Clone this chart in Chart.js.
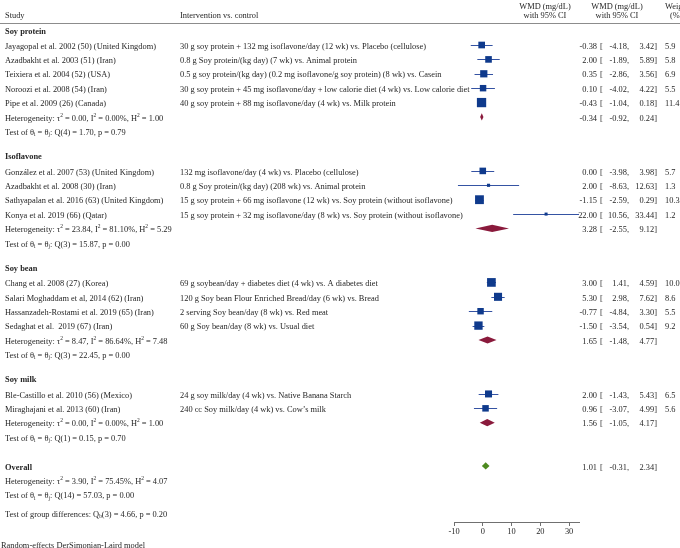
<!DOCTYPE html>
<html>
<head>
<meta charset="utf-8">
<script src="https://cdn.jsdelivr.net/npm/chart.js@4.4.1/dist/chart.umd.min.js"></script>
<style>
    html, body { margin: 0; padding: 0; background: #fff; }
    #wrap { width: 680px; height: 548px; }
</style>
</head>
<body>
<div id="wrap"><canvas id="chart" width="680" height="548"></canvas></div>
<script>
const groupNames = ['Soy protein', 'Isoflavone', 'Soy bean', 'Soy milk']

const studyLabels = [
    'Jayagopal et al. 2002 (50) (United Kingdom)',
    'Azadbakht et al. 2003 (51) (Iran)',
    'Teixiera et al. 2004 (52) (USA)',
    'Noroozi et al. 2008 (54) (Iran)',
    'Pipe et al. 2009 (26) (Canada)',
    'González et al. 2007 (53) (United Kingdom)',
    'Azadbakht et al. 2008 (30) (Iran)',
    'Sathyapalan et al. 2016 (63) (United Kingdom)',
    'Konya et al. 2019 (66) (Qatar)',
    'Chang et al. 2008 (27) (Korea)',
    'Salari Moghaddam et al, 2014 (62) (Iran)',
    'Hassanzadeh-Rostami et al. 2019 (65) (Iran)',
    'Sedaghat et al.  2019 (67) (Iran)',
    'Ble-Castillo et al. 2010 (56) (Mexico)',
    'Miraghajani et al. 2013 (60) (Iran)'
]
const interventions = [
    '30 g soy protein + 132 mg isoflavone/day (12 wk) vs. Placebo (cellulose)',
    '0.8 g Soy protein/(kg day) (7 wk) vs. Animal protein',
    '0.5 g soy protein/(kg day) (0.2 mg isoflavone/g soy protein) (8 wk) vs. Casein',
    '30 g soy protein + 45 mg isoflavone/day + low calorie diet (4 wk) vs. Low calorie diet',
    '40 g soy protein + 88 mg isoflavone/day (4 wk) vs. Milk protein',
    '132 mg isoflavone/day (4 wk) vs. Placebo (cellulose)',
    '0.8 g Soy protein/(kg day) (208 wk) vs. Animal protein',
    '15 g soy protein + 66 mg isoflavone (12 wk) vs. Soy protein (without isoflavone)',
    '15 g soy protein + 32 mg isoflavone/day (8 wk) vs. Soy protein (without isoflavone)',
    '69 g soybean/day + diabetes diet (4 wk) vs. A diabetes diet',
    '120 g Soy bean Flour Enriched Bread/day (6 wk) vs. Bread',
    '2 serving Soy bean/day (8 wk) vs. Red meat',
    '60 g Soy bean/day (8 wk) vs. Usual diet',
    '24 g soy milk/day (4 wk) vs. Native Banana Starch',
    '240 cc Soy milk/day (4 wk) vs. Cow\u2019s milk'
]
const studyGroup = [0, 0, 0, 0, 0, 1, 1, 1, 1, 2, 2, 2, 2, 3, 3]
const estimates = [-0.38, 2.00, 0.35, 0.10, -0.43, 0.00, 2.00, -1.15, 22.00, 3.00, 5.30, -0.77, -1.50, 2.00, 0.96]
const lowerCI = [-4.18, -1.89, -2.86, -4.02, -1.04, -3.98, -8.63, -2.59, 10.56, 1.41, 2.98, -4.84, -3.54, -1.43, -3.07]
const upperCI = [3.42, 5.89, 3.56, 4.22, 0.18, 3.98, 12.63, 0.29, 33.44, 4.59, 7.62, 3.30, 0.54, 5.43, 4.99]
const weights = [5.9, 5.8, 6.9, 5.5, 11.4, 5.7, 1.3, 10.3, 1.2, 10.0, 8.6, 5.5, 9.2, 6.5, 5.6]

const pooledEst = [-0.34, 3.28, 1.65, 1.56]
const pooledLow = [-0.92, -2.55, -1.48, -1.05]
const pooledHigh = [0.24, 9.12, 4.77, 4.17]
const tau2 = ['0.00', '23.84', '8.47', '0.00']
const iSq = ['0.00', '81.10', '86.64', '0.00']
const hSq = ['1.00', '5.29', '7.48', '1.00']
const qDf = [4, 3, 3, 1]
const qVal = ['1.70', '15.87', '22.45', '0.15']
const qP = ['0.79', '0.00', '0.00', '0.70']

const overall = { est: 1.01, low: -0.31, high: 2.34, tau2: '3.90', i2: '75.45', h2: '4.07', df: 14, q: '57.03', p: '0.00' }
const groupDiff = { df: 3, q: '4.66', p: '0.20' }

const xTicks = [-10, 0, 10, 20, 30]

// row layout (in row units)
const rows = []
let u = 0
groupNames.forEach((name, g) => {
    if (g > 0) u += 1.7
    rows.push({ u, kind: 'header', text: name })
    u += 1.05
    studyGroup.forEach((sg, i) => {
        if (sg !== g) return
        rows.push({ u, kind: 'study', i })
        u += 1
    })
    rows.push({ u, kind: 'het', g })
    u += 1
    rows.push({ u, kind: 'test', g })
})
u += 2
rows.push({ u, kind: 'overall' })
u += 1
rows.push({ u, kind: 'ohet' })
u += 1
rows.push({ u, kind: 'otest' })
u += 1.3
rows.push({ u, kind: 'gdiff' })

const studyRowU = []
rows.forEach(r => { if (r.kind === 'study') studyRowU[r.i] = r.u })

const FS = 8.4
const FONT = '"Liberation Serif", "Times New Roman", serif'
const TEXT = '#262626'
const SQUARE = '#0f3a8c'
const WHISKER = '#3553a3'
const POOLED = '#8a1a3c'
const OVERALL = '#4d8a1f'
const TEXT_SHIFT = 1.5

function drawRich(ctx, parts, x, y) {
    let cx = x
    parts.forEach(p => {
        const [txt, mode] = typeof p === 'string' ? [p, ''] : p
        const size = mode ? FS * 0.65 : FS
        ctx.font = `${size}px ${FONT}`
        const dy = mode === 'sup' ? -FS * 0.38 : mode === 'sub' ? FS * 0.25 : 0
        ctx.fillText(txt, cx, y + dy)
        cx += ctx.measureText(txt).width
    })
}

function hetParts(t, i, h) {
    return ['Heterogeneity: \u03c4', ['2', 'sup'], ` = ${t}, I`, ['2', 'sup'], ` = ${i}%, H`, ['2', 'sup'], ` = ${h}`]
}
function testParts(df, q, p) {
    return ['Test of \u03b8', ['i', 'sub'], ' = \u03b8', ['j', 'sub'], `: Q(${df}) = ${q}, p = ${p}`]
}

function drawValues(ctx, y, est, low, high) {
    ctx.font = `${FS}px ${FONT}`
    ctx.textAlign = 'right'
    ctx.fillText(est.toFixed(2), 597, y)
    ctx.textAlign = 'left'
    ctx.fillText('[', 600, y)
    ctx.textAlign = 'right'
    ctx.fillText(low.toFixed(2) + ',', 629, y)
    ctx.fillText(high.toFixed(2) + ']', 657, y)
    ctx.textAlign = 'left'
}

function diamond(ctx, xs, ys, y, est, low, high, color) {
    const cy = ys.getPixelForValue(y)
    ctx.fillStyle = color
    ctx.beginPath()
    ctx.moveTo(xs.getPixelForValue(low), cy)
    ctx.lineTo(xs.getPixelForValue(est), cy - 3.6)
    ctx.lineTo(xs.getPixelForValue(high), cy)
    ctx.lineTo(xs.getPixelForValue(est), cy + 3.6)
    ctx.closePath()
    ctx.fill()
}

const forestPlugin = {
    id: 'forest',
    beforeDatasetsDraw(chart) {
        const { ctx, scales: { x, y } } = chart
        ctx.save()
        ctx.strokeStyle = WHISKER
        ctx.lineWidth = 1
        estimates.forEach((e, i) => {
            const py = Math.round(y.getPixelForValue(studyRowU[i])) + 0.5
            ctx.beginPath()
            ctx.moveTo(x.getPixelForValue(lowerCI[i]), py)
            ctx.lineTo(x.getPixelForValue(upperCI[i]), py)
            ctx.stroke()
        })
        rows.forEach(r => {
            if (r.kind === 'het') diamond(ctx, x, y, r.u, pooledEst[r.g], pooledLow[r.g], pooledHigh[r.g], POOLED)
            if (r.kind === 'overall') diamond(ctx, x, y, r.u, overall.est, overall.low, overall.high, OVERALL)
        })
        ctx.restore()
    },
    afterDraw(chart) {
        const { ctx, scales: { y } } = chart
        ctx.save()
        ctx.fillStyle = TEXT
        ctx.textBaseline = 'middle'
        ctx.font = `${FS}px ${FONT}`

        // column headers
        ctx.textAlign = 'left'
        ctx.fillText('Study', 5, 16)
        ctx.fillText('Intervention vs. control', 180, 16)
        ctx.textAlign = 'center'
        ctx.fillText('WMD (mg/dL)', 545, 6.5)
        ctx.fillText('with 95% CI', 545, 16)
        ctx.fillText('WMD (mg/dL)', 617, 6.5)
        ctx.fillText('with 95% CI', 617, 16)
        ctx.textAlign = 'left'
        ctx.fillText('Weight', 665, 6.5)
        ctx.fillText('(%)', 670, 16)
        ctx.strokeStyle = '#8c8c8c'
        ctx.lineWidth = 1
        ctx.beginPath()
        ctx.moveTo(0, 23.5)
        ctx.lineTo(680, 23.5)
        ctx.stroke()

        rows.forEach(r => {
            const py = y.getPixelForValue(r.u) + TEXT_SHIFT
            ctx.textAlign = 'left'
            ctx.font = `${FS}px ${FONT}`
            if (r.kind === 'header' || r.kind === 'overall') {
                ctx.font = `bold ${FS}px ${FONT}`
                ctx.fillText(r.kind === 'overall' ? 'Overall' : r.text, 5, py)
                if (r.kind === 'overall') drawValues(ctx, py, overall.est, overall.low, overall.high)
            } else if (r.kind === 'study') {
                ctx.fillText(studyLabels[r.i], 5, py)
                ctx.fillText(interventions[r.i], 180, py)
                drawValues(ctx, py, estimates[r.i], lowerCI[r.i], upperCI[r.i])
                ctx.fillText(weights[r.i].toFixed(1), 665, py)
            } else if (r.kind === 'het') {
                drawRich(ctx, hetParts(tau2[r.g], iSq[r.g], hSq[r.g]), 5, py)
                drawValues(ctx, py, pooledEst[r.g], pooledLow[r.g], pooledHigh[r.g])
            } else if (r.kind === 'test') {
                drawRich(ctx, testParts(qDf[r.g], qVal[r.g], qP[r.g]), 5, py)
            } else if (r.kind === 'ohet') {
                drawRich(ctx, hetParts(overall.tau2, overall.i2, overall.h2), 5, py)
            } else if (r.kind === 'otest') {
                drawRich(ctx, testParts(overall.df, overall.q, overall.p), 5, py)
            } else if (r.kind === 'gdiff') {
                drawRich(ctx, ['Test of group differences: Q', ['b', 'sub'], `(${groupDiff.df}) = ${groupDiff.q}, p = ${groupDiff.p}`], 5, py)
            }
        })

        ctx.font = `${FS}px ${FONT}`
        ctx.textAlign = 'left'
        ctx.fillText('Random-effects DerSimonian-Laird model', 1, 545.5)
        ctx.restore()
    }
}

new Chart(document.getElementById('chart'), {
    type: 'scatter',
    data: {
        datasets: [{
            data: estimates.map((e, i) => ({ x: e, y: studyRowU[i] })),
            pointStyle: 'rect',
            pointRadius: c => 2.75 * Math.sqrt(weights[c.dataIndex]) / Math.SQRT2,
            backgroundColor: SQUARE,
            borderWidth: 0
        }]
    },
    options: {
        responsive: false,
        animation: false,
        events: [],
        layout: { padding: { left: 454, right: 101, top: 23, bottom: 4 } },
        scales: {
            x: {
                type: 'linear',
                min: -10,
                max: 33.44,
                afterBuildTicks: scale => { scale.ticks = xTicks.map(v => ({ value: v })) },
                afterFit: scale => { scale.height = 22 },
                ticks: { color: TEXT, font: { family: FONT, size: FS }, padding: 1, maxRotation: 0 },
                grid: { drawOnChartArea: false, drawTicks: true, tickLength: 4, color: '#707070' },
                border: { display: true, color: '#707070', width: 1 }
            },
            y: {
                type: 'linear',
                display: false,
                reverse: true,
                min: -0.48,
                max: 34.2
            }
        },
        plugins: {
            legend: { display: false },
            tooltip: { enabled: false }
        }
    },
    plugins: [forestPlugin]
})
</script>
</body>
</html>
